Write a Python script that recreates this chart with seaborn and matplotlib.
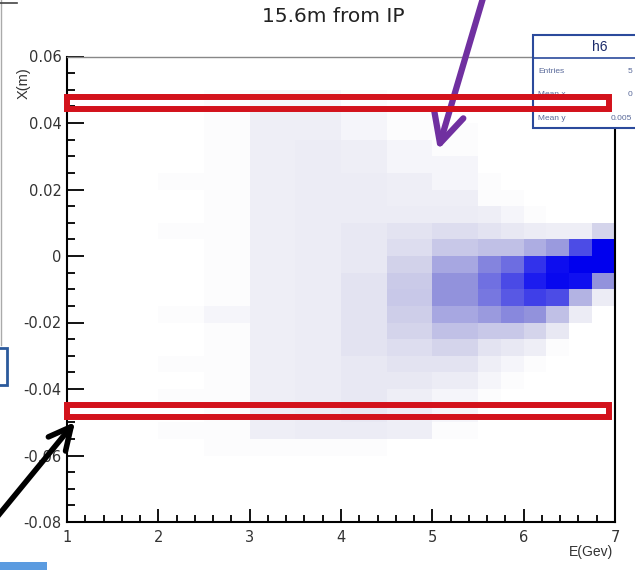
import numpy as np
import pandas as pd
import matplotlib
matplotlib.use("Agg")
import matplotlib.pyplot as plt
import seaborn as sns
from matplotlib.colors import LinearSegmentedColormap
from matplotlib.patches import Rectangle
from matplotlib.lines import Line2D
from matplotlib.ticker import MultipleLocator, FixedLocator

# ---------------- data (2D histogram) ----------------
e_edges = [1.0, 1.5, 2.0, 2.5, 3.0, 3.5, 4.0, 4.5, 5.0, 5.5, 5.75, 6.0, 6.25, 6.5, 6.75, 7.0]
x_edges = [-0.060, -0.055, -0.050, -0.045, -0.040, -0.035, -0.030, -0.025, -0.020, -0.015,
           -0.010, -0.005, 0.000, 0.005, 0.010, 0.015, 0.020, 0.025, 0.030, 0.035,
           0.040, 0.045, 0.050]

# counts per cell, one list per energy column, from X=-0.060 (bottom) upward
counts_e1_00 = [0] * 22
counts_e1_50 = [0] * 22
counts_e2_00 = [0, 1, 0, 1, 0, 1, 0, 0, 1, 0, 0, 0, 0, 1, 0, 0, 1, 0, 0, 0, 0, 0]
counts_e2_50 = [1, 1, 1, 1, 1, 1, 1, 1, 2, 1, 1, 1, 1, 1, 1, 1, 1, 1, 1, 1, 1, 1]
counts_e3_00 = [1, 3, 3, 3, 3, 3, 3, 3, 3, 3, 3, 3, 3, 3, 3, 3, 3, 3, 3, 3, 3, 2]
counts_e3_50 = [1, 4, 4, 4, 4, 4, 4, 4, 4, 4, 4, 4, 4, 4, 4, 4, 4, 4, 4, 3, 3, 2]
counts_e4_00 = [1, 4, 5, 5, 5, 5, 6, 6, 6, 6, 6, 5, 5, 5, 4, 4, 4, 3, 3, 2, 2, 1]
counts_e4_50 = [0, 3, 3, 3, 5, 6, 8, 10, 12, 14, 13, 11, 8, 6, 4, 3, 3, 2, 2, 1, 1, 0]
counts_e5_00 = [0, 1, 2, 2, 4, 6, 10, 16, 24, 30, 30, 24, 14, 8, 4, 3, 2, 2, 1, 1, 0, 0]
counts_e5_50 = [0, 0, 0, 1, 2, 3, 6, 14, 28, 42, 45, 36, 16, 6, 3, 1, 1, 0, 0, 0, 0, 0]
counts_e5_75 = [0, 0, 0, 0, 1, 2, 5, 14, 34, 55, 62, 46, 16, 5, 2, 1, 0, 0, 0, 0, 0, 0]
counts_e6_00 = [0, 0, 0, 0, 0, 1, 3, 10, 30, 72, 105, 84, 22, 4, 1, 0, 0, 0, 0, 0, 0, 0]
counts_e6_25 = [0, 0, 0, 0, 0, 0, 1, 5, 16, 60, 135, 125, 28, 3, 0, 0, 0, 0, 0, 0, 0, 0]
counts_e6_50 = [0, 0, 0, 0, 0, 0, 0, 0, 4, 20, 120, 220, 60, 3, 0, 0, 0, 0, 0, 0, 0, 0]
counts_e6_75 = [0, 0, 0, 0, 0, 0, 0, 0, 0, 4, 30, 200, 220, 10, 0, 0, 0, 0, 0, 0, 0, 0]

columns = [counts_e1_00, counts_e1_50, counts_e2_00, counts_e2_50, counts_e3_00,
           counts_e3_50, counts_e4_00, counts_e4_50, counts_e5_00, counts_e5_50,
           counts_e5_75, counts_e6_00, counts_e6_25, counts_e6_50, counts_e6_75]

x_ticks = [-0.08, -0.06, -0.04, -0.02, 0.0, 0.02, 0.04, 0.06]
x_tick_labels = ["-0.08", "-0.06", "-0.04", "-0.02", "0", "0.02", "0.04", "0.06"]
e_ticks = [1, 2, 3, 4, 5, 6, 7]

rows = []
for i, col in enumerate(columns):
    ec = 0.5 * (e_edges[i] + e_edges[i + 1])
    for j, c in enumerate(col):
        xc = 0.5 * (x_edges[j] + x_edges[j + 1])
        rows.append((ec, xc, c))
df = pd.DataFrame(rows, columns=["E", "X", "n"])

# ---------------- figure ----------------
W, H = 635, 570
fig = plt.figure(figsize=(W / 100, H / 100), dpi=100)
fig.patch.set_facecolor("white")
FONT = "Liberation Sans"
WIDE = "DejaVu Sans"

def fx(px):
    return px / W

def fy(py):
    return 1 - py / H

ax = fig.add_axes([fx(67), fy(522), fx(615) - fx(67), fy(56.5) - fy(522)])
ax.set_facecolor("white")

cmap = LinearSegmentedColormap.from_list(
    "rootscat",
    [(0.0, "#ffffff"), (0.02, "#eeeef6"), (0.07, "#d2d2ea"), (0.2, "#9292dc"),
     (0.4, "#4c4ce6"), (0.75, "#1414f0"), (1.0, "#0000ee")])

sns.histplot(data=df, x="E", y="X", weights="n", bins=[e_edges, x_edges],
             cmap=cmap, vmin=0, vmax=150, ax=ax, cbar=False)

ax.set_xlim(1, 7)
ax.set_ylim(-0.08, 0.06)
ax.set_xlabel("")
ax.set_ylabel("")

# ROOT-style frame and ticks
for s in ["left", "bottom", "right"]:
    ax.spines[s].set_color("black")
    ax.spines[s].set_linewidth(1.5)
ax.spines["top"].set_color("#888888")
ax.spines["top"].set_linewidth(1.0)

ax.xaxis.set_major_locator(FixedLocator(e_ticks))
ax.xaxis.set_minor_locator(MultipleLocator(0.2))
ax.yaxis.set_major_locator(FixedLocator(x_ticks))
ax.yaxis.set_minor_locator(MultipleLocator(0.005))
ax.set_yticklabels(x_tick_labels)
ax.set_xticklabels([str(t) for t in e_ticks])
ax.tick_params(axis="both", which="both", direction="in", color="black", width=1.3,
               top=False, right=False, labelcolor="#333333")
ax.tick_params(axis="x", which="major", length=9.5, pad=6)
ax.tick_params(axis="x", which="minor", length=5)
ax.tick_params(axis="y", which="major", length=12.5, pad=4)
ax.tick_params(axis="y", which="minor", length=6)
for lab in ax.get_xticklabels() + ax.get_yticklabels():
    lab.set_fontfamily(WIDE)
    lab.set_fontsize(10.5)

# red highlight boxes
red = "#d3121c"
ax.add_patch(Rectangle((1.0, 0.0442), 5.93, 0.0036, fill=False, edgecolor=red,
                       linewidth=4.3, zorder=7, clip_on=False))
ax.add_patch(Rectangle((1.0, -0.0484), 5.93, 0.0036, fill=False, edgecolor=red,
                       linewidth=4.3, zorder=7, clip_on=False))

# texts
fig.text(fx(333), fy(17), "15.6m from IP", ha="center", va="center",
         fontsize=14.5, family=WIDE, color="#222222")
fig.text(fx(24), fy(83), "X(m)", ha="center", va="center", rotation=90,
         fontsize=10.5, family=FONT, color="#333333")
fig.text(fx(591), fy(552), "E(Gev)", ha="center", va="center",
         fontsize=10, family=FONT, color="#333333")

# stats box (cut at the right edge), drawn inside the axes layer
navy = "#2b4a9c"
ax.add_patch(Rectangle((fx(533), fy(128)), fx(120), fy(35) - fy(128),
                       transform=fig.transFigure, fill=True, facecolor="white",
                       edgecolor=navy, linewidth=1.5, zorder=5, clip_on=False))
ax.add_line(Line2D([fx(533), fx(640)], [fy(58), fy(58)], transform=fig.transFigure,
                   color=navy, linewidth=1.2, zorder=6, clip_on=False))
stat_kw = dict(transform=fig.transFigure, va="center", fontsize=6, family=FONT,
               color="#5a6a9a", zorder=6, clip_on=False)
ax.text(fx(600), fy(47), "h6", ha="center", va="center", fontsize=10, family=FONT,
        color="#1b2b6a", zorder=6, transform=fig.transFigure, clip_on=False)
ax.text(fx(538), fy(72), "Entries", ha="left", **stat_kw)
ax.text(fx(632), fy(72), "5", ha="right", **stat_kw)
ax.text(fx(538), fy(95), "Mean x", ha="left", **stat_kw)
ax.text(fx(632), fy(95), "0", ha="right", **stat_kw)
ax.text(fx(538), fy(118), "Mean y", ha="left", **stat_kw)
ax.text(fx(632), fy(118), "0.005", ha="right", **stat_kw)

# arrows
ax.annotate("", xy=(fx(438), fy(150)), xytext=(fx(486), fy(-12)),
            xycoords="figure fraction", textcoords="figure fraction",
            annotation_clip=False,
            arrowprops=dict(arrowstyle="->,head_length=2.2,head_width=1.1",
                            lw=4.5, color="#7030a0", shrinkA=0, shrinkB=0))
ax.annotate("", xy=(fx(75), fy(422)), xytext=(fx(-12), fy(528)),
            xycoords="figure fraction", textcoords="figure fraction",
            annotation_clip=False,
            arrowprops=dict(arrowstyle="->,head_length=1.6,head_width=0.8",
                            lw=4.0, color="black", shrinkA=0, shrinkB=0))

# slide remnants at the left edge
fig.lines.append(Line2D([fx(1), fx(1)], [fy(0), fy(345)], transform=fig.transFigure,
                        color="#aaaaaa", linewidth=1.0))
fig.lines.append(Line2D([fx(0), fx(17)], [fy(3), fy(3)], transform=fig.transFigure,
                        color="#444444", linewidth=1.2))
fig.patches.append(Rectangle((fx(-4), fy(385)), fx(11), fy(348) - fy(385),
                             transform=fig.transFigure, fill=False, edgecolor="#2b5a9c",
                             linewidth=2))
fig.patches.append(Rectangle((fx(0), fy(570)), fx(47), fy(562) - fy(570),
                             transform=fig.transFigure, fill=True, facecolor="#5b9be0",
                             edgecolor="none"))

fig.savefig("out.png", dpi=100, facecolor="white")
